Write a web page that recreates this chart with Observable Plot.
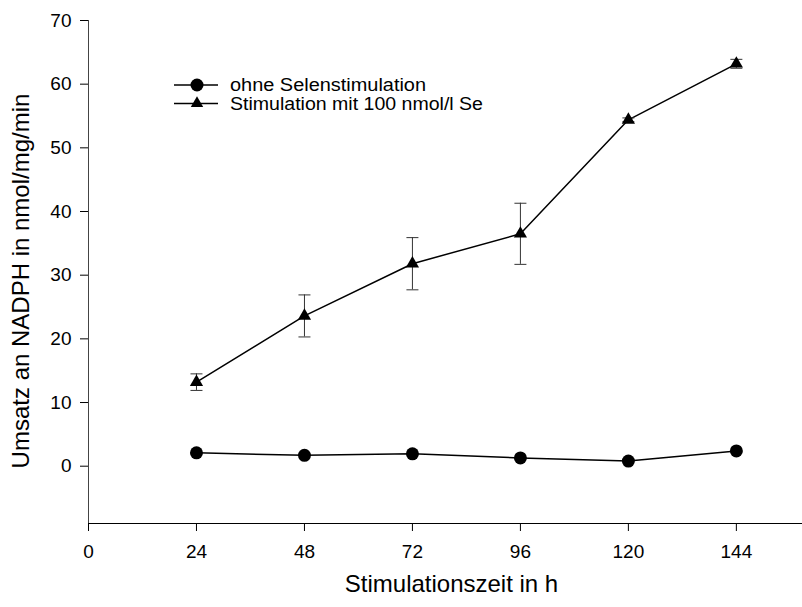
<!DOCTYPE html>
<html>
<head>
<meta charset="utf-8">
<script src="https://cdn.jsdelivr.net/npm/d3@7"></script>
<script src="https://cdn.jsdelivr.net/npm/@observablehq/plot@0.6"></script>
<style>
  html, body { margin: 0; padding: 0; background: #fff; }
  #wrap { position: relative; width: 802px; height: 607px; }
  #legend { position: absolute; left: 0; top: 0; pointer-events: none; }
</style>
</head>
<body>
<div id="wrap"><div id="chart"></div><svg id="legend" width="802" height="140"></svg></div>
<script>
const hours = [24, 48, 72, 96, 120, 144];
const ohneSe = [2.1, 1.7, 1.95, 1.3, 0.8, 2.4];
const mitSe = [13.2, 23.6, 31.8, 36.5, 54.4, 63.2];
const mitSeErr = [1.3, 3.3, 4.1, 4.8, 0.3, 0.7];
const xTicks = [0, 24, 48, 72, 96, 120, 144];
const yTicks = [0, 10, 20, 30, 40, 50, 60, 70];
const seriesNames = ["ohne Selenstimulation", "Stimulation mit 100 nmol/l Se"];
const xTitle = "Stimulationszeit in h";
const yTitle = "Umsatz an NADPH in nmol/mg/min";

const dataOhne = hours.map((h, i) => ({x: h, y: ohneSe[i]}));
const dataMit = hours.map((h, i) => ({x: h, y: mitSe[i], e: mitSeErr[i]}));

const capSymbol = {
  draw(ctx, size) {
    const w = Math.sqrt(size / Math.PI);
    ctx.moveTo(-w, 0);
    ctx.lineTo(w, 0);
  }
};

const font = "'Liberation Sans', Arial, Helvetica, sans-serif";

const chart = Plot.plot({
  width: 802,
  height: 607,
  marginLeft: 88,
  marginRight: 0,
  marginTop: 20,
  marginBottom: 84,
  style: {fontFamily: font, fontSize: "19px", background: "#fff", color: "#000"},
  x: {domain: [0, 158.7]},
  y: {domain: [-9, 70]},
  marks: [
    Plot.ruleX([0], {stroke: "#444", strokeWidth: 1}),
    Plot.ruleY([-9], {stroke: "#000", strokeWidth: 1}),
    Plot.axisX({ticks: xTicks, tickSize: 8, tickPadding: 13, fontSize: 19, label: null, tickFormat: d => String(d)}),
    Plot.axisY({ticks: yTicks, tickSize: 8, tickPadding: 9, fontSize: 19, label: null, tickFormat: d => String(d)}),
    Plot.line(dataOhne, {x: "x", y: "y", stroke: "#000", strokeWidth: 1.5}),
    Plot.line(dataMit, {x: "x", y: "y", stroke: "#000", strokeWidth: 1.5}),
    Plot.ruleX(dataMit, {x: "x", y1: d => d.y - d.e, y2: d => d.y + d.e, stroke: "#333", strokeWidth: 1}),
    Plot.dot(dataMit, {x: "x", y: d => d.y + d.e, r: 6, symbol: capSymbol, stroke: "#333", fill: "none", strokeWidth: 1}),
    Plot.dot(dataMit, {x: "x", y: d => d.y - d.e, r: 6, symbol: capSymbol, stroke: "#333", fill: "none", strokeWidth: 1}),
    Plot.dot(dataOhne, {x: "x", y: "y", r: 6.5, symbol: "circle", fill: "#000", stroke: "none"}),
    Plot.dot(dataMit, {x: "x", y: "y", r: 4.9, symbol: "triangle", fill: "#000", stroke: "none"}),
    Plot.text([xTitle], {text: d => d, frameAnchor: "bottom", textAnchor: "middle", dx: 6, dy: 68, fontSize: 24, fill: "#000"}),
    Plot.text([yTitle], {text: d => d, frameAnchor: "left", textAnchor: "middle", rotate: -90, dx: -67, dy: 9, fontSize: 24, fill: "#000"})
  ]
});
document.getElementById("chart").appendChild(chart);

// Legend
const lg = d3.select("#legend");
const rows = [
  {name: seriesNames[0], sym: d3.symbolCircle, size: Math.PI * 6.5 * 6.5, w: 196},
  {name: seriesNames[1], sym: d3.symbolTriangle, size: Math.PI * 4.6 * 4.6, w: 253}
];
rows.forEach((r, i) => {
  const y = 85 + i * 18.5;
  lg.append("line").attr("x1", 174).attr("x2", 218).attr("y1", y).attr("y2", y).attr("stroke", "#000").attr("stroke-width", 1.5);
  lg.append("path").attr("d", d3.symbol(r.sym, r.size)()).attr("transform", `translate(197,${y})`).attr("fill", "#000");
  lg.append("text").attr("x", 230).attr("y", y).attr("dy", "0.36em")
    .attr("font-family", font).attr("font-size", 17.5).attr("fill", "#000")
    .attr("textLength", r.w).attr("lengthAdjust", "spacingAndGlyphs")
    .text(r.name);
});
</script>
</body>
</html>
